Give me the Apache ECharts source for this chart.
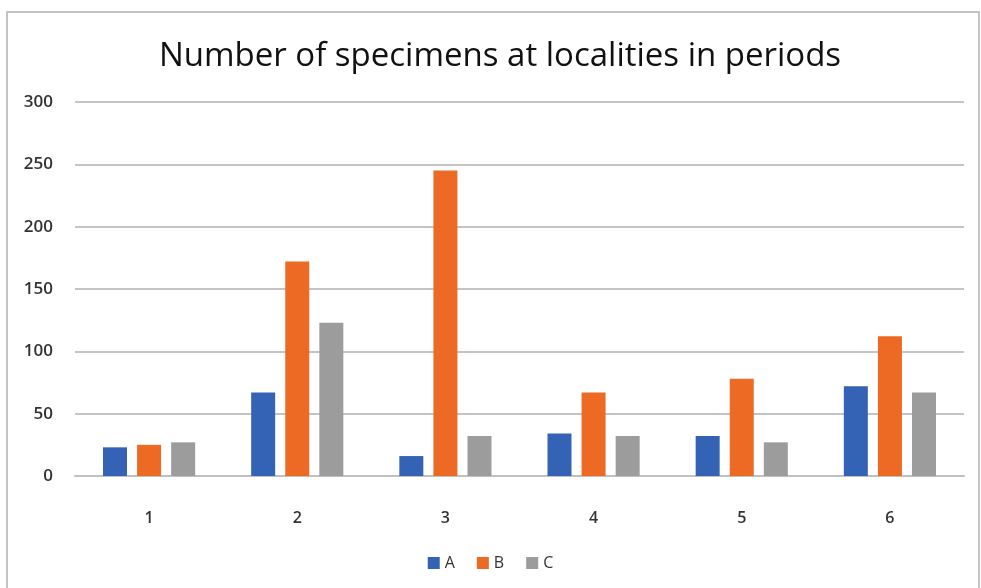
<!DOCTYPE html>
<html>
<head>
<meta charset="utf-8">
<script src="https://cdn.jsdelivr.net/npm/echarts@6/dist/echarts.min.js"></script>
<style>
html,body{margin:0;padding:0;background:#fff;}
#c{width:981px;height:588px;}
</style>
</head>
<body>
<div id="c"></div>
<script>
const categories = ['1','2','3','4','5','6'];
const seriesA = [23, 67, 16, 34, 32, 72];
const seriesB = [25, 172, 245, 67, 78, 112];
const seriesC = [27, 123, 32, 32, 27, 67];
const seriesNames = ['A','B','C'];
const yTicks = {min:0, max:300, interval:50};

const chart = echarts.init(document.getElementById('c'));
const font = '"Open Sans", "Liberation Sans", sans-serif';
chart.setOption({
  animation:false,
  backgroundColor:'#fff',
  graphic:[{type:'rect', shape:{x:7,y:12,width:972,height:620}, style:{fill:'none', stroke:'#c4c4c4', lineWidth:2}, silent:true}],
  title:{text:'Number of specimens at localities in periods', left:495, textAlign:'center', top:35,
    textStyle:{fontFamily:font, fontSize:33, fontWeight:500, color:'#111'}},
  legend:{data:seriesNames, bottom:12, left:'center', itemWidth:12, itemHeight:12, itemGap:22,
    textStyle:{fontFamily:font, fontSize:16, color:'#333'}, icon:'rect'},
  grid:{left:75, right:17, top:102, bottom:112},
  xAxis:{type:'category', data:categories,
    axisLine:{lineStyle:{color:'#c0c0c0', width:2}}, axisTick:{show:false},
    axisLabel:{fontFamily:font, fontSize:16, fontWeight:600, color:'#333', margin:34}},
  yAxis:{type:'value', min:yTicks.min, max:yTicks.max, interval:yTicks.interval,
    axisLine:{show:false}, axisTick:{show:false},
    splitLine:{lineStyle:{color:'#c4c4c4', width:2}},
    axisLabel:{fontFamily:font, fontSize:17, fontWeight:600, color:'#333', margin:22}},
  series:[
    {name:seriesNames[0], type:'bar', data:seriesA, itemStyle:{color:'#3463B5'}, barWidth:24, barGap:'42%', barCategoryGap:'38%'},
    {name:seriesNames[1], type:'bar', data:seriesB, itemStyle:{color:'#EC6A24'}, barWidth:24, barGap:'42%'},
    {name:seriesNames[2], type:'bar', data:seriesC, itemStyle:{color:'#9C9C9C'}, barWidth:24, barGap:'42%'}
  ]
});
</script>
</body>
</html>
